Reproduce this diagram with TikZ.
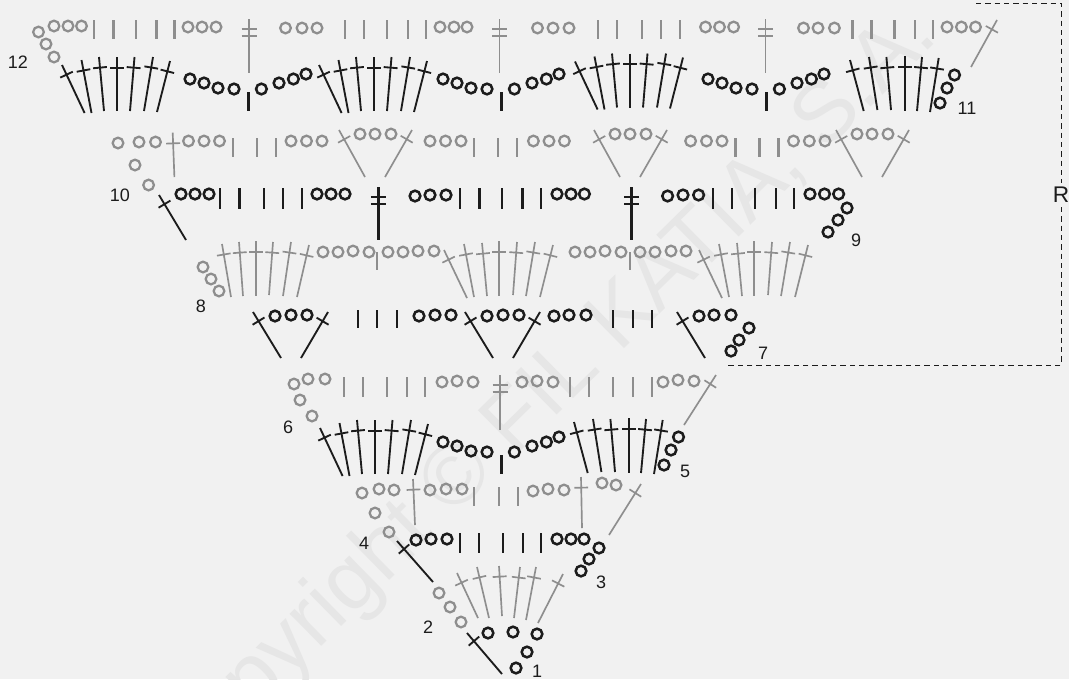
\documentclass[tikz,border=0pt]{standalone}
\usepackage{fontspec}
\setmainfont{Liberation Sans}
\usetikzlibrary{calc}
\definecolor{chartbg}{HTML}{F1F1F1}
\definecolor{chartink}{HTML}{1C1C1C}
\definecolor{chartgrey}{HTML}{8E8E8E}
\definecolor{markgrey}{HTML}{E6E6E6}
\tikzset{
    blk/.style={draw=chartink,line width=1.4pt},
    gry/.style={draw=chartgrey,line width=1.25pt},
    blkch/.style={draw=chartink,line width=1.9pt},
    grych/.style={draw=chartgrey,line width=1.7pt},
    grybar/.style={draw=chartgrey,line width=1.6pt},
    rnum/.style={text=chartink,font=\fontsize{13.5}{15}\selectfont,inner sep=0pt},
    rdash/.style={draw=chartink,line width=0.7pt,dash pattern=on 4pt off 3pt},
    wmark/.style={text=markgrey,font=\fontsize{64}{70}\selectfont,rotate=44.5,inner sep=0pt},
}
% chain loops, bars, tall stitches
\newcommand{\chn}[2]{\foreach \px/\py in {#2} \draw[#1] (\px,\py) circle[radius=4pt];}
\newcommand{\bars}[4]{\foreach \px in {#4} \draw[#1] (\px,#2) -- (\px,#3);}
\newcommand{\tallst}[5]{
    \coordinate (t) at (#2,#3);
    \coordinate (b) at (#4,#5);
    \coordinate (m) at ($(t)!8pt!(b)$);
    \draw[#1] (t) -- (b) ($(m)!5.2pt!90:(b)$) -- ($(m)!5.2pt!-90:(b)$);
}
\newcommand{\dblst}[4]{
    \draw[#1] (#2,#3) -- (#2,#4) (#2-7.5,#3+10) -- (#2+7.5,#3+10) (#2-7.5,#3+17) -- (#2+7.5,#3+17);
}
% the fans and dips that come back in rows 5 and 11
\newcommand{\fanseven}[1]{
    \tallst{#1}{62}{65}{84.6}{113}
    \tallst{#1}{81.5}{60}{91.5}{113}
    \tallst{#1}{99}{57}{104}{111}
    \tallst{#1}{117}{57}{117}{111}
    \tallst{#1}{134.5}{57}{130}{111}
    \tallst{#1}{153}{57}{144}{111}
    \tallst{#1}{170}{61}{157}{112}
}
\newcommand{\fansix}[1]{
    \tallst{#1}{850}{60}{863.7}{111}
    \tallst{#1}{869}{57}{877.4}{110}
    \tallst{#1}{886.4}{57}{891}{110}
    \tallst{#1}{905}{56}{905}{111}
    \tallst{#1}{922}{57}{917}{111}
    \tallst{#1}{938.7}{58}{930}{112}
}
\newcommand{\dipchain}{
    \chn{blkch}{190/79,204/83,218/88,234/89,261.4/89,279/83,293.4/79,306/74}
    \bars{blkch}{92}{111}{248.4}
}
\newcommand{\vgrey}{
    \tallst{gry}{0}{130}{26}{177}
    \tallst{gry}{73}{130}{46}{177}
    \chn{grych}{21/134,36/134,52/134}
}
\newcommand{\vblack}{
    \tallst{blk}{0}{312}{28}{358}
    \tallst{blk}{75}{312}{48}{358}
    \chn{blkch}{22/316,38/315,54/315}
}
\newcommand{\faneight}{
    \tallst{gry}{444}{250}{467}{298}
    \tallst{gry}{464}{244}{474}{297}
    \tallst{gry}{482}{243}{487}{296}
    \tallst{gry}{499}{241}{499}{296}
    \tallst{gry}{517}{242}{513}{295}
    \tallst{gry}{535}{242}{526}{296}
    \tallst{gry}{553}{245}{540}{297}
}

\begin{document}
\begin{tikzpicture}[x=0.75pt,y=-0.75pt]
    \useasboundingbox (0,0) rectangle (1069,679);
    \fill[chartbg] (0,0) rectangle (1069,679);
    \begin{scope}
        \clip (0,0) rectangle (1069,679);
        \node[wmark] (mark) at (542,399) {Copyright © FIL KATIA, S.A.};
    \end{scope}

    % row 12
    \chn{grych}{38.5/32,54/26,68/26,81.5/26,46/44,54/57,188/27,202/27,216/27,285.5/28,302/28,317/28,440/27,454/27,467/27,537.5/28,553/28,569/28,705.5/27,719.5/27,733.6/27,803.5/28,818/28,834.4/28,947/27,961.4/27,975.5/27}
    \bars{grybar}{20}{39}{94,113.5,136,156.5,174.5,345,364,387,408,426,598,617,642,661,680,852.5,871.5,894.5,915,933}
    \dblst{gry}{249}{19}{73}
    \dblst{gry}{499.5}{19}{73}
    \dblst{gry}{765.5}{19}{73}
    \tallst{gry}{997}{20}{971}{67}

    % row 11
    \fanseven{blk}
    \begin{scope}[shift={(257,0)}] \fanseven{blk} \end{scope}
    \begin{scope}[shift={(513,-3.5)}] \fanseven{blk} \end{scope}
    \fansix{blk}
    \dipchain
    \begin{scope}[shift={(253,0)}] \dipchain \end{scope}
    \begin{scope}[shift={(518,0)}] \dipchain \end{scope}
    \chn{blkch}{954.5/75,947/88,940/103}

    % row 10
    \chn{grych}{118/143,139/142,155.5/142,135/165,148.6/185,188.5/141,204/141,219.5/141,291/141,306.5/141,322/141,430/141,445.5/141,461/141,533.4/141,549/141,564.4/141,690.6/141,706.5/141,722/141,793.5/141,809.3/141,825/141}
    \tallst{gry}{172.7}{132.7}{174.4}{177}
    \bars{grybar}{138}{157}{233,257,276,474,498,517,735.5,759.5,778.5}
    \begin{scope}[shift={(339,0)}] \vgrey \end{scope}
    \begin{scope}[shift={(594,0)}] \vgrey \end{scope}
    \begin{scope}[shift={(836,0)}] \vgrey \end{scope}

    % row 9
    \tallst{blk}{159}{195}{186}{240}
    \chn{blkch}{181/194,195/194,209/194,317/194,331/194,345/194,415/196,430/195,446/195,557/194,571/194,584.4/194,667.6/196,683/195,698.6/195,810/194,824.5/194,838.6/194,847/208,838/220,828/232}
    \bars{blkch}{188}{209}{220,239.5,264,283,302,460,479.5,502,522.5,541,713,732,755,776,794}
    \dblst{blkch}{378.4}{187}{240}
    \dblst{blkch}{631.5}{187}{240}

    % row 8
    \chn{grych}{203/267,211/279,219/291,323/252,338/252,353/251,369/252,388/252,403/252,418/251,434/251,575/252,590/252,605/251,621/252,640/252,655/252,671/251,686/251}
    \bars{grybar}{252}{270}{377,630}
    \tallst{gry}{222}{244}{231}{297}
    \tallst{gry}{239}{242}{243}{296}
    \tallst{gry}{256}{241}{256}{296}
    \tallst{gry}{273}{242}{269}{295}
    \tallst{gry}{291}{242}{283}{296}
    \tallst{gry}{309}{245}{297}{297}
    \faneight
    \begin{scope}[shift={(255,0)}] \faneight \end{scope}

    % row 7
    \begin{scope}[shift={(253,0)}] \vblack \end{scope}
    \begin{scope}[shift={(465,0)}] \vblack \end{scope}
    \tallst{blk}{677}{312}{705}{358}
    \chn{blkch}{419/316,435/315,451/315,554/316,569/315,586/315,699/316,714/315,731/315,749/328,739/340,731/351}
    \bars{blkch}{310}{328}{358,377,397,613,633,652}

    % row 6
    \chn{grych}{294/384,308/379,325/379,300/400,312/416,442/382,457/381,473/382,522/382,537/381,553/382,663/382,678/380,694/381}
    \bars{grybar}{377}{397}{344,363,387,407,425,570,589,613,633,652}
    \dblst{gry}{500}{375}{430}
    \tallst{gry}{716}{375}{684}{425}

    % row 5
    \begin{scope}[shift={(258,363)}] \fanseven{blk} \end{scope}
    \begin{scope}[shift={(253,363)}] \dipchain \end{scope}
    \begin{scope}[shift={(-276,362)}] \fansix{blk} \end{scope}
    \chn{blkch}{678.5/437,671/450,664/465}

    % row 4
    \chn{grych}{362/493,379/489,394/490,375/513,389/532,430/490,446/489,462/489,533/491,548/489,564/490,602/483,616/485}
    \tallst{gry}{413}{479}{415}{525}
    \tallst{gry}{581}{477}{582}{528}
    \bars{grybar}{487}{506}{474,499,518}
    \tallst{gry}{641}{484}{609}{535}

    % row 3
    \tallst{blk}{397}{541}{433}{582}
    \chn{blkch}{416/540,431/539,447/539,557/539,571/539,584/539,599/548,589/559,581/571}
    \bars{blkch}{533}{553}{460,479,503,523,541}

    % row 2
    \chn{grych}{439/593,450/607,461/622}
    \tallst{gry}{457}{573}{478}{618}
    \tallst{gry}{477}{567}{489}{618}
    \tallst{gry}{499}{566}{502}{616}
    \tallst{gry}{520}{567}{514}{618}
    \tallst{gry}{536}{567}{526}{620}
    \tallst{gry}{563}{574}{538}{623}

    % row 1
    \tallst{blk}{467}{633}{502}{674}
    \chn{blkch}{488/633,513/632,537/634,527/652,516/668}

    % row numbers
    \node[rnum] (n1) at (537,671) {1};
    \node[rnum] (n2) at (428,627) {2};
    \node[rnum] (n3) at (601,582) {3};
    \node[rnum] (n4) at (364,543) {4};
    \node[rnum] (n5) at (685,471) {5};
    \node[rnum] (n6) at (288,427) {6};
    \node[rnum] (n7) at (763,353) {7};
    \node[rnum] (n8) at (201,306) {8};
    \node[rnum] (n9) at (856,240) {9};
    \node[rnum] (n10) at (120,195) {10};
    \node[rnum] (n11) at (967,108) {11};
    \node[rnum] (n12) at (18,62) {12};
    \node[rnum,font=\fontsize{17}{19}\selectfont,inner ysep=3pt] (nR) at (1061,195) {R};

    % repeat bracket
    \coordinate (rtop) at (976,3);
    \coordinate (rbot) at (728,365);
    \draw[rdash] (rtop) -| (nR.north);
    \draw[rdash] (nR.south) |- (rbot);
\end{tikzpicture}
\end{document}
